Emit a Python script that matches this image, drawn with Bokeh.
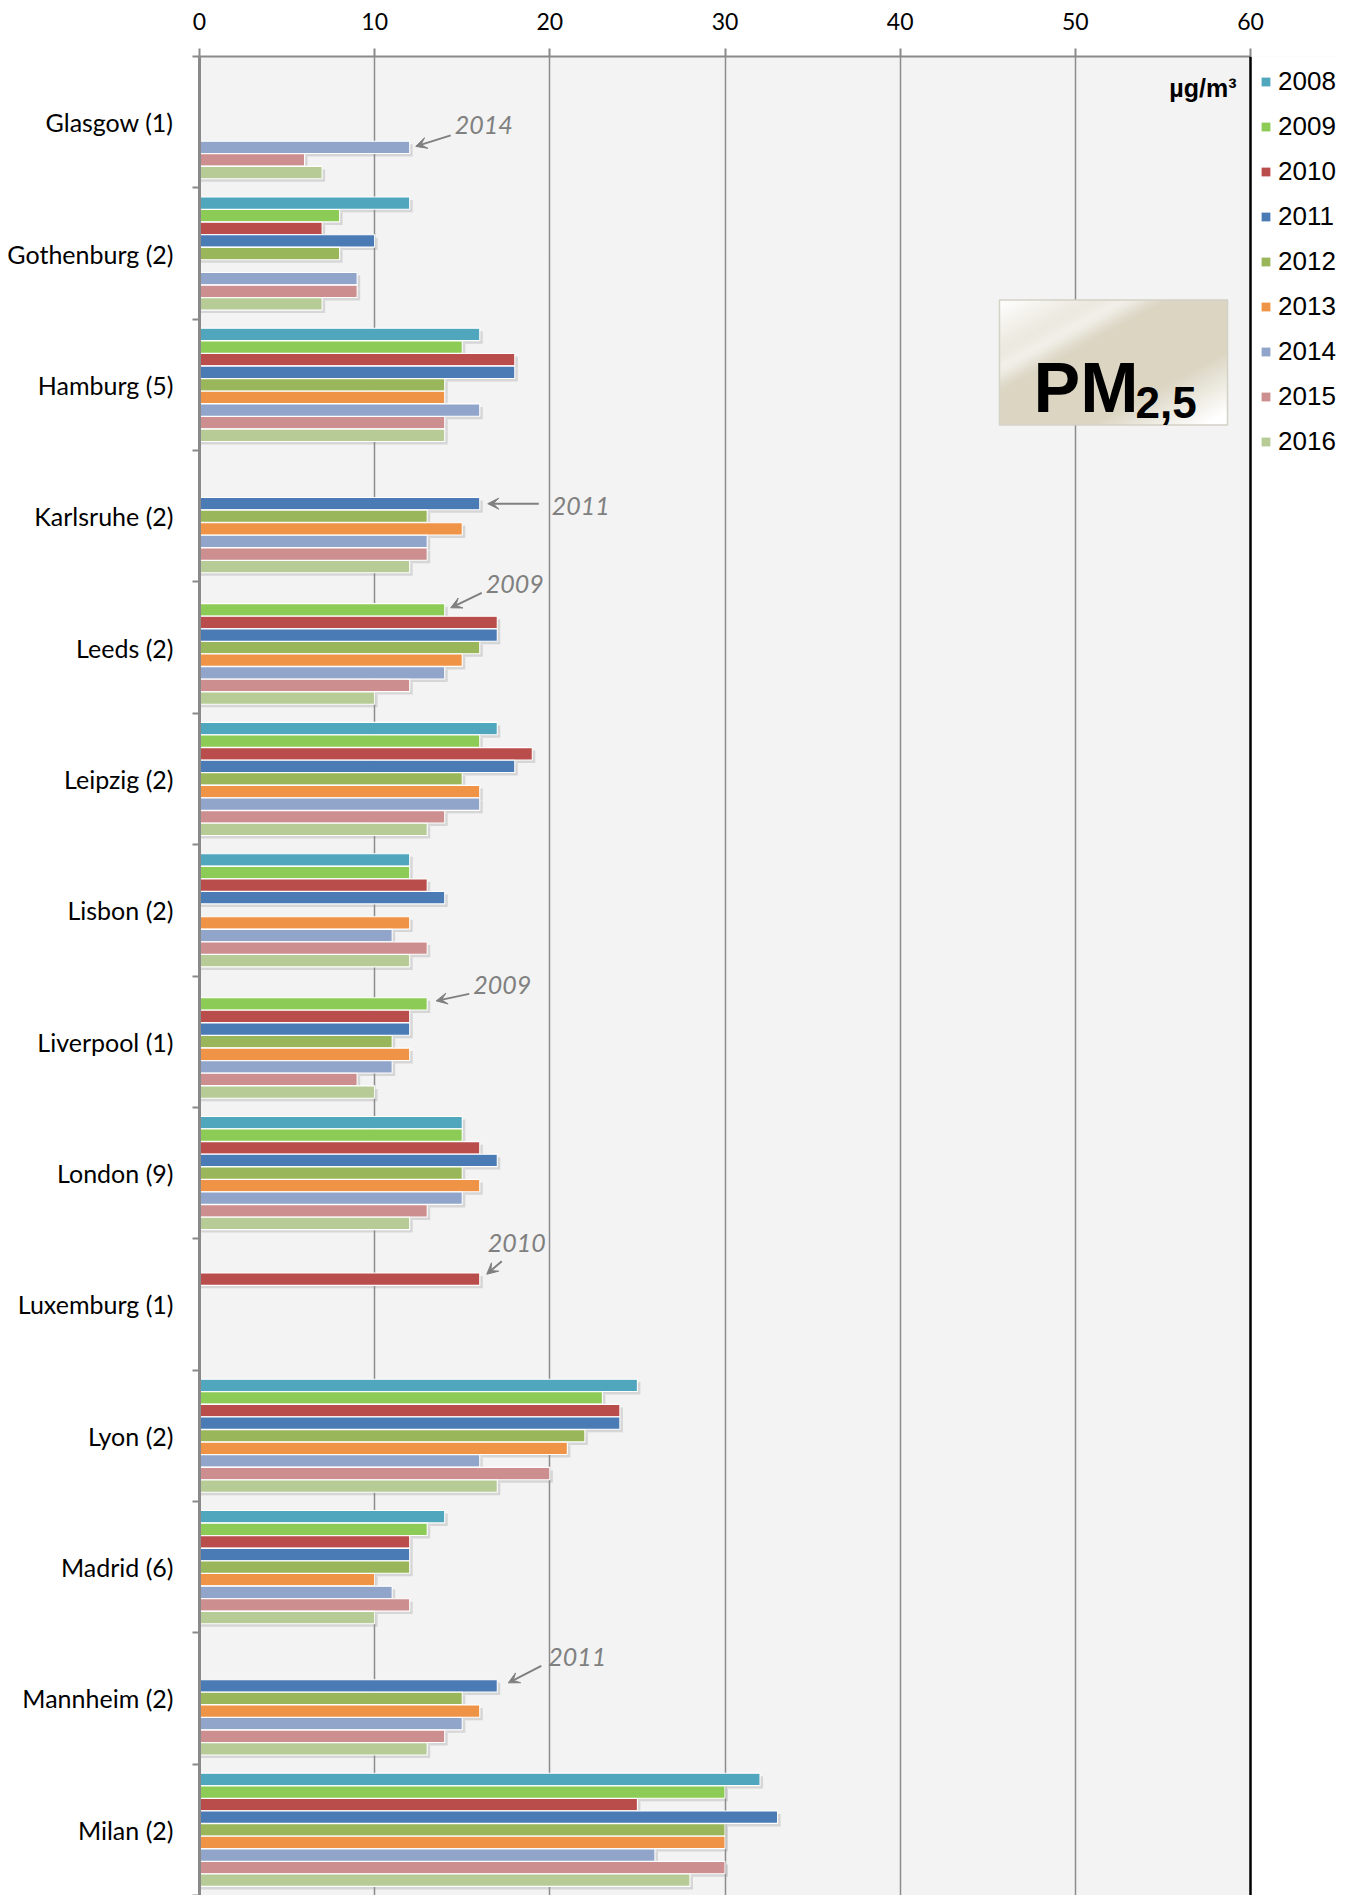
import numpy as np
from bokeh.plotting import figure
from bokeh.models import Range1d, FixedTicker, Legend, LegendItem, Span, Arrow, VeeHead
from bokeh.core.properties import value
from bokeh.embed import file_html
from bokeh.resources import INLINE

# ---------------- data ----------------
cities = ["Glasgow (1)", "Gothenburg (2)", "Hamburg (5)", "Karlsruhe (2)", "Leeds (2)",
          "Leipzig (2)", "Lisbon (2)", "Liverpool (1)", "London (9)", "Luxemburg (1)",
          "Lyon (2)", "Madrid (6)", "Mannheim (2)", "Milan (2)"]
years = ["2008", "2009", "2010", "2011", "2012", "2013", "2014", "2015", "2016"]

v2008 = [None, 12, 16, None, None, 17, 12, None, 15, None, 25, 14, None, 32]
v2009 = [None, 8, 15, None, 14, 16, 12, 13, 15, None, 23, 13, None, 30]
v2010 = [None, 7, 18, None, 17, 19, 13, 12, 16, 16, 24, 12, None, 25]
v2011 = [None, 10, 18, 16, 17, 18, 14, 12, 17, None, 24, 12, 17, 33]
v2012 = [None, 8, 14, 13, 16, 15, None, 11, 15, None, 22, 12, 15, 30]
v2013 = [None, None, 14, 15, 15, 16, 12, 12, 16, None, 21, 10, 16, 30]
v2014 = [12, 9, 16, 13, 14, 16, 11, 11, 15, None, 16, 11, 15, 26]
v2015 = [6, 9, 14, 13, 12, 14, 13, 9, 13, None, 20, 12, 14, 30]
v2016 = [7, 7, 14, 12, 10, 13, 12, 10, 12, None, 17, 10, 13, 28]
series = [v2008, v2009, v2010, v2011, v2012, v2013, v2014, v2015, v2016]

x_ticks = [0, 10, 20, 30, 40, 50, 60]
X_MAX = 60

# annotations: (city index, year)
notes = [(0, "2014"), (3, "2011"), (4, "2009"), (7, "2009"), (9, "2010"), (12, "2011")]

# ---------------- styles ----------------
colors = ["#4fa6bd", "#8ccb55", "#b94d4b", "#4b7bb5", "#99b65a",
          "#ef9447", "#91a5cb", "#cc8e8f", "#b6cb96"]
PLOT_W, FRAME_W, FRAME_H = 1051, 1140, 1839
NG = len(cities)
PXX = PLOT_W / X_MAX          # px per x unit
PXY = FRAME_H / NG            # px per group
X_END = FRAME_W / PXX
pitch = 12.6 / PXY
bar_h = pitch * 0.98

# annotation pixel offsets (head dx,dy ; tail dx,dy ; text dx,dy) relative to bar end
note_style = [
    (6, -1, 41, -12, 45, -22),
    (8, 0, 59, 0, 72, 2),
    (6, -2, 37, -17, 41, -26),
    (9, -3, 42, -10, 46, -19),
    (7, -5, 22, -18, 8, -36),
    (11, -3, 44, -20, 51, -29),
]

p = figure(frame_width=FRAME_W, frame_height=FRAME_H,
           x_range=Range1d(0, X_END), y_range=Range1d(0, NG),
           x_axis_location="above", output_backend="svg", toolbar_location=None,
           min_border_left=199, min_border_top=56, min_border_right=0, min_border_bottom=0,
           background_fill_color="#f2f3f2", border_fill_color="white")
p.outline_line_color = None

# white area right of the plot (legend area)
p.quad(left=[X_MAX], right=[X_END + 1], bottom=[-1], top=[NG + 1], fill_color="white",
       line_color=None)


def bar_y(ci, yj):
    return (NG - 0.5 - ci) + (4 - yj) * pitch


# shadows
for j, vals in enumerate(series):
    ys, rs = [], []
    for i, v in enumerate(vals):
        if v is not None:
            ys.append(bar_y(i, j) - 3.0 / PXY)
            rs.append(v + 3.0 / PXX)
    p.hbar(y=ys, left=0, right=rs, height=bar_h, fill_color="#8c8c8c", fill_alpha=0.28,
           line_color=None)

for j, vals in enumerate(series):
    ys, rs = [], []
    for i, v in enumerate(vals):
        if v is not None:
            ys.append(bar_y(i, j))
            rs.append(v)
    p.hbar(y=ys, left=0, right=rs, height=bar_h, fill_color=colors[j],
           line_color="white", line_width=1.1)

# right border
p.add_layout(Span(location=X_MAX, dimension="height", line_color="black", line_width=2.5))

# axes
xa = p.xaxis[0]
xa.ticker = FixedTicker(ticks=x_ticks)
xa.bounds = (0, X_MAX)
xa.major_label_text_font = "Lato"
xa.major_label_text_font_size = "23px"
xa.major_label_text_color = "black"
xa.major_tick_out = 8
xa.major_tick_in = 0
xa.major_tick_line_color = "#8a8a8a"
xa.major_tick_line_width = 2
xa.minor_tick_line_color = None
xa.axis_line_color = "#8a8a8a"
xa.axis_line_width = 2
xa.major_label_standoff = 19

ya = p.yaxis[0]
centers = [NG - 0.5 - i for i in range(NG)]
ya.ticker = FixedTicker(ticks=centers, minor_ticks=[float(k) for k in range(NG + 1)])
ya.major_label_overrides = {c: name for c, name in zip(centers, cities)}
ya.major_label_text_font = "Lato"
ya.major_label_text_font_size = "25px"
ya.major_label_text_color = "black"
ya.major_tick_line_color = None
ya.major_tick_out = 0
ya.major_tick_in = 0
ya.minor_tick_out = 7
ya.minor_tick_in = 0
ya.minor_tick_line_color = "#8a8a8a"
ya.minor_tick_line_width = 2
ya.axis_line_color = "#8a8a8a"
ya.axis_line_width = 3
ya.major_label_standoff = 19

p.xgrid.ticker = FixedTicker(ticks=x_ticks[1:-1])
p.xgrid.grid_line_color = "#8c8c8c"
p.xgrid.grid_line_width = 1.5
p.ygrid.grid_line_color = None

# annotations
for (ci, yr), st in zip(notes, note_style):
    j = years.index(yr)
    v = series[j][ci]
    by = bar_y(ci, j)
    hx, hy, tx, ty, lx, ly = st
    p.add_layout(Arrow(end=VeeHead(size=11, fill_color="#7f7f7f", line_color="#7f7f7f"),
                       x_start=v + tx / PXX, y_start=by - ty / PXY,
                       x_end=v + hx / PXX, y_end=by - hy / PXY,
                       line_color="#7f7f7f", line_width=2))
    p.text(x=[v + lx / PXX], y=[by - ly / PXY], text=[yr], text_font=value("Lato"),
           text_font_style="italic", text_font_size="25px", text_color="#808080",
           text_align="left", text_baseline="middle")

# unit label
p.text(x=[X_MAX - 0.8], y=[NG - 31.4 / PXY], text=["µg/m³"], text_font=value("Liberation Sans"),
       text_font_style="bold", text_font_size="25px", text_color="black",
       text_align="right", text_baseline="middle")

# PM2,5 box with gradient
bx0, bx1 = (999 - 199) / PXX, (1227 - 199) / PXX
by_top, by_bot = NG - (299 - 55.6) / PXY, NG - (424 - 55.6) / PXY
W, H = 228, 125
xx, yy = np.meshgrid(np.linspace(0, 1, W), np.linspace(0, 1, H))  # yy=0 top
t = (xx + yy) / 2.0
f = np.clip(t / 0.38, 0, 1) * np.clip((0.95 - t) / 0.25, 0, 1)
streak = np.exp(-((t - 0.28) / 0.05) ** 2) * 0.35
f = np.clip(f - streak, 0, 1)
beige = np.array([219, 213, 194])
white = np.array([255, 255, 255])
rgb = white[None, None, :] * (1 - f[..., None]) + beige[None, None, :] * f[..., None]
img = np.zeros((H, W), dtype=np.uint32)
view = img.view(dtype=np.uint8).reshape((H, W, 4))
view[..., 0] = rgb[..., 0].astype(np.uint8)
view[..., 1] = rgb[..., 1].astype(np.uint8)
view[..., 2] = rgb[..., 2].astype(np.uint8)
view[..., 3] = 255
img = img[::-1]  # row 0 at bottom
p.image_rgba(image=[img], x=bx0, y=by_bot, dw=bx1 - bx0, dh=by_top - by_bot)
p.quad(left=[bx0], right=[bx1], top=[by_top], bottom=[by_bot], fill_color=None,
       line_color="#d4d1c6", line_width=1.5)

p.text(x=[(1033 - 199) / PXX], y=[NG - (387 - 55.6) / PXY], text=["PM"],
       text_font=value("Liberation Sans"), text_font_style="bold", text_font_size="70px",
       text_color="black", text_align="left", text_baseline="alphabetic")
p.text(x=[(1135 - 199) / PXX], y=[NG - (402 - 55.6) / PXY], text=["2,5"],
       text_font=value("Liberation Sans"), text_font_style="bold", text_font_size="44px",
       text_color="black", text_align="left", text_baseline="alphabetic")

# legend (proxy glyphs placed outside the visible range)
proxies = [p.quad(left=[-5], right=[-4], top=[-5], bottom=[-6], fill_color=c, line_color=None)
           for c in colors]
ROW_H, SPACING, PAD = 31, 14, 10
leg_h = 2 * PAD + len(years) * ROW_H + (len(years) - 1) * SPACING
legend = Legend(items=[LegendItem(label=y, renderers=[r]) for y, r in zip(years, proxies)],
                location=(1061, FRAME_H - leg_h + 10), orientation="vertical")
legend.label_text_font = "Liberation Sans"
legend.label_text_font_size = "26px"
legend.label_text_color = "black"
legend.label_height = ROW_H
legend.glyph_height = 11
legend.glyph_width = 11
legend.label_standoff = 7
legend.spacing = SPACING
legend.padding = PAD
legend.margin = 0
legend.border_line_color = None
legend.background_fill_alpha = 0
p.add_layout(legend)

open("out.html", "w").write(file_html(p, INLINE))
